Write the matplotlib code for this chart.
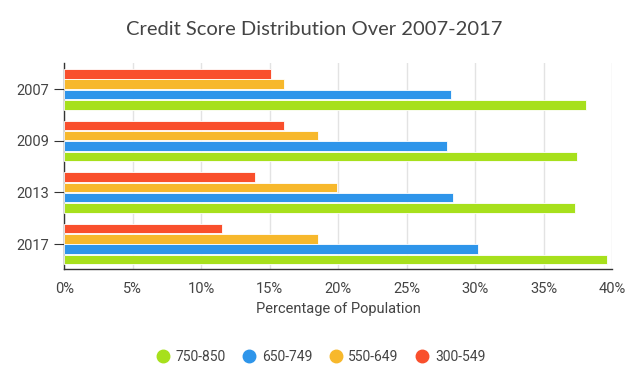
import numpy as np
import matplotlib.pyplot as plt
from matplotlib.lines import Line2D

# dati
years = ['2007', '2009', '2013', '2017']
s_300_549 = [15.1, 16.0, 13.9, 11.5]
s_550_649 = [16.0, 18.5, 19.9, 18.5]
s_650_749 = [28.2, 27.9, 28.4, 30.2]
s_750_850 = [38.1, 37.4, 37.3, 39.6]

series = [
    ('300-549', s_300_549, '#F94F2C'),
    ('550-649', s_550_649, '#F7B82C'),
    ('650-749', s_650_749, '#2E95EA'),
    ('750-850', s_750_850, '#A7E01C'),
]

text_col = '#444444'
plt.rcParams['font.family'] = ['Roboto', 'DejaVu Sans']

fig = plt.figure(figsize=(6.4, 3.91), dpi=100)
ax = fig.add_axes([0.1005, 0.312, 0.8563, 0.526])

y = np.arange(len(years))
offsets = [-0.3, -0.1, 0.1, 0.3]
for (label, vals, col), off in zip(series, offsets):
    ax.barh(y + off, vals, height=0.185, color=col, edgecolor='white',
            linewidth=0.6, zorder=3)

ax.set_xlim(0, 40)
ax.set_ylim(3.485, -0.504)
ax.set_yticks(y)
ax.set_yticklabels(years)
ax.set_xticks(np.arange(0, 41, 5))
ax.set_xticklabels([f'{v}%' for v in range(0, 41, 5)])
ax.grid(axis='x', color='#e3e3e3', linewidth=1, zorder=0)

for s in ['top', 'right']:
    ax.spines[s].set_visible(False)
for s in ['left', 'bottom']:
    ax.spines[s].set_color('#333333')
    ax.spines[s].set_linewidth(1)
ax.tick_params(axis='y', length=7, color='#333333', labelsize=10.5, labelcolor=text_col, pad=4)
ax.tick_params(axis='x', length=0, labelsize=10.5, labelcolor=text_col, pad=9)

ax.set_xlabel('Percentage of Population', fontsize=10.5, color=text_col, labelpad=5)
fig.text(0.491, 0.924, 'Credit Score Distribution Over 2007-2017', ha='center', va='center',
         fontsize=14.5, color=text_col, family=['Lato', 'DejaVu Sans'])

handles = []
for label, vals, col in series[::-1]:
    handles.append(Line2D([], [], marker='o', linestyle='', markersize=9,
                          markerfacecolor=col, markeredgecolor=col, label=label))
leg = fig.legend(handles=handles, loc='center', bbox_to_anchor=(0.5, 0.087), ncol=4,
                 frameon=False, fontsize=10, handletextpad=0.3, columnspacing=1.1,
                 handlelength=1.2)
for t in leg.get_texts():
    t.set_color(text_col)

fig.savefig('out.png', dpi=100)
